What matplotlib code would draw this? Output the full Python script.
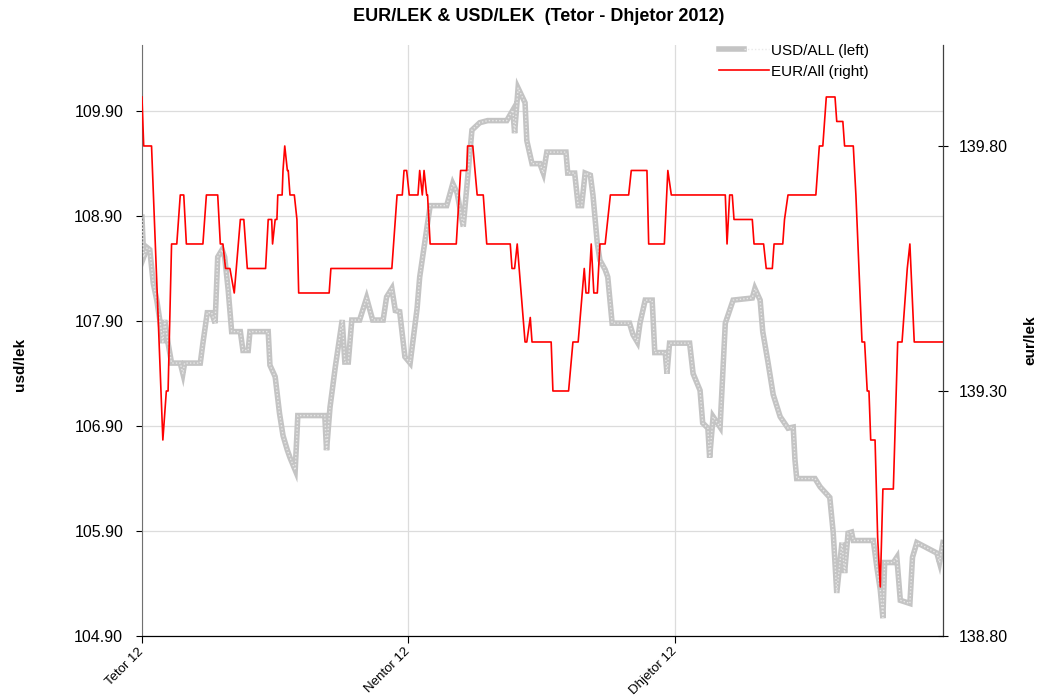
import matplotlib
matplotlib.use("Agg")
import matplotlib.pyplot as plt
from matplotlib.lines import Line2D
from matplotlib.legend_handler import HandlerTuple
import numpy as np

plt.rcParams['font.family'] = ['Liberation Sans', 'DejaVu Sans']

# x in days since 1 Oct 2012
month_pos = [0, 30.55, 61.2]
month_labels = ["Tetor 12", "Nentor 12", "Dhjetor 12"]

usd_day = [0.0, 0.2, 0.6, 0.9, 1.3, 1.7, 2.1, 2.4, 2.6, 3.0, 3.4, 4.4, 4.7, 4.9, 6.7, 7.0,
           7.5, 8.0, 8.4, 8.7, 9.2, 9.5, 9.9, 10.3, 11.3, 11.6, 12.2, 12.4, 14.5, 14.7, 15.3,
           15.8, 16.2, 16.7, 17.0, 17.6, 17.9, 21.0, 21.2, 21.6, 22.2, 23.0, 23.3, 23.7, 24.1,
           25.0, 25.8, 26.5, 27.7, 28.1, 28.7, 29.1, 29.6, 30.2, 30.8, 31.6, 31.9, 33.1, 35.0,
           35.7, 36.2, 36.9, 37.9, 38.8, 39.7, 41.9, 42.6, 42.8, 43.2, 44.0, 44.2, 44.8, 45.7,
           46.1, 46.5, 48.7, 48.9, 49.7, 50.1, 50.5, 50.9, 51.5, 51.8, 52.3, 52.6, 53.2, 53.5,
           54.0, 56.0, 56.4, 56.9, 57.2, 57.8, 58.6, 58.9, 60.1, 60.3, 60.6, 62.9, 63.3, 64.1,
           64.4, 65.0, 65.2, 65.6, 66.4, 67.0, 67.9, 70.1, 70.4, 71.0, 71.3, 71.9, 72.5, 73.3,
           74.2, 74.8, 75.0, 75.2, 77.3, 77.9, 79.0, 79.4, 79.8, 80.4, 80.7, 81.1, 81.5, 81.7,
           84.0, 84.4, 84.8, 85.1, 85.3, 86.3, 86.7, 87.1, 88.2, 88.5, 89.0, 91.3, 91.6, 92.0]
usd_all = [108.89, 108.51, 108.60, 108.58, 108.26, 108.10, 107.88, 107.69, 107.91, 107.69,
           107.50, 107.50, 107.40, 107.50, 107.50, 107.69, 107.98, 107.98, 107.88, 108.51,
           108.58, 108.51, 108.20, 107.80, 107.80, 107.62, 107.62, 107.80, 107.80, 107.48,
           107.37, 107.02, 106.81, 106.67, 106.60, 106.48, 107.00, 107.00, 106.67, 107.08,
           107.46, 107.91, 107.51, 107.51, 107.91, 107.91, 108.12, 107.91, 107.91, 108.13,
           108.21, 108.00, 107.99, 107.56, 107.50, 108.02, 108.32, 109.00, 109.00, 109.21,
           109.12, 108.80, 109.72, 109.79, 109.81, 109.81, 109.91, 109.69, 110.12, 109.98,
           109.62, 109.40, 109.40, 109.31, 109.51, 109.51, 109.31, 109.31, 109.00, 109.00,
           109.31, 109.29, 109.10, 108.64, 108.48, 108.39, 108.32, 107.88, 107.88, 107.77,
           107.70, 107.88, 108.10, 108.10, 107.60, 107.60, 107.40, 107.69, 107.69, 107.40,
           107.24, 106.93, 106.88, 106.60, 106.99, 106.89, 107.88, 108.10, 108.12, 108.21,
           108.10, 107.80, 107.51, 107.20, 106.99, 106.88, 106.89, 106.58, 106.40, 106.40,
           106.32, 106.22, 105.88, 105.31, 105.79, 105.50, 105.88, 105.89, 105.81, 105.81,
           105.56, 105.34, 105.07, 105.60, 105.60, 105.65, 105.24, 105.21, 105.65, 105.79,
           105.69, 105.60, 105.79]

eur_day = [0.0, 0.2, 1.1, 2.4, 2.8, 3.0, 3.4, 4.0, 4.4, 4.8, 5.1, 7.0, 7.4, 8.7, 9.0, 9.3,
           9.6, 10.1, 10.6, 11.3, 11.7, 12.1, 14.2, 14.5, 14.9, 15.0, 15.3, 15.5, 15.6, 16.1,
           16.2, 16.4, 16.7, 16.8, 17.0, 17.5, 17.8, 18.0, 21.5, 21.7, 28.7, 29.3, 29.9, 30.1,
           30.4, 30.7, 31.7, 31.9, 32.2, 32.4, 32.7, 32.8, 33.1, 36.1, 36.6, 37.3, 37.4, 38.0,
           38.5, 39.2, 39.6, 42.3, 42.5, 42.8, 43.1, 44.0, 44.2, 44.6, 44.8, 47.0, 47.2, 49.0,
           49.5, 50.1, 50.8, 51.0, 51.3, 51.6, 51.9, 52.3, 52.6, 53.2, 53.8, 55.9, 56.2, 58.0,
           58.2, 60.0, 60.4, 60.8, 67.0, 67.2, 67.5, 67.8, 68.0, 70.1, 70.3, 71.4, 71.7, 72.4,
           72.6, 73.6, 73.8, 74.2, 77.4, 77.8, 78.2, 78.6, 79.6, 79.8, 80.5, 80.7, 81.7, 82.0,
           82.7, 83.0, 83.3, 83.5, 83.7, 84.2, 84.5, 84.8, 85.1, 86.3, 86.8, 87.3, 87.9, 88.2,
           88.7, 92.0]
eur_all = [139.90, 139.80, 139.80, 139.20, 139.30, 139.30, 139.60, 139.60, 139.70, 139.70,
           139.60, 139.60, 139.70, 139.70, 139.60, 139.60, 139.55, 139.55, 139.50, 139.65,
           139.65, 139.55, 139.55, 139.65, 139.65, 139.60, 139.65, 139.65, 139.70, 139.70,
           139.75, 139.80, 139.75, 139.75, 139.70, 139.70, 139.65, 139.50, 139.50, 139.55,
           139.55, 139.70, 139.70, 139.75, 139.75, 139.70, 139.70, 139.75, 139.70, 139.75,
           139.70, 139.70, 139.60, 139.60, 139.75, 139.75, 139.80, 139.80, 139.70, 139.70,
           139.60, 139.60, 139.55, 139.55, 139.60, 139.40, 139.40, 139.45, 139.40, 139.40,
           139.30, 139.30, 139.40, 139.40, 139.55, 139.50, 139.50, 139.60, 139.50, 139.50,
           139.60, 139.60, 139.70, 139.70, 139.75, 139.75, 139.60, 139.60, 139.75, 139.70,
           139.70, 139.60, 139.70, 139.70, 139.65, 139.65, 139.60, 139.60, 139.55, 139.55,
           139.60, 139.60, 139.65, 139.70, 139.70, 139.80, 139.80, 139.90, 139.90, 139.85,
           139.85, 139.80, 139.80, 139.70, 139.40, 139.40, 139.30, 139.30, 139.20, 139.20,
           139.00, 138.90, 139.10, 139.10, 139.40, 139.40, 139.55, 139.60, 139.40, 139.40]

fig = plt.figure(figsize=(10.4, 6.98), dpi=100)
ax = fig.add_axes([0.1365, 0.0888, 0.7702, 0.8467])
ax2 = ax.twinx()

# gray "textured" line for USD (base + fine dotted overlay)
gray_base = dict(color='#c4c4c4', lw=4.0, solid_joinstyle='miter')
gray_dots = dict(color='#e8e8e8', lw=1.0, ls=(0, (1, 1.5)))
ax.plot(usd_day, usd_all, zorder=2, **gray_base)
ax.plot(usd_day, usd_all, zorder=3, **gray_dots)
ax2.plot(eur_day, eur_all, color='#ff0000', lw=1.2, zorder=4)

ax.set_xlim(0, 92)
ax.set_ylim(104.9, 110.53)
ax2.set_ylim(138.8, 140.006)

ax.set_yticks(np.arange(104.9, 110.0, 1.0))
ax.set_yticklabels(["%.2f" % v for v in np.arange(104.9, 110.0, 1.0)])
ax2.set_yticks([138.8, 139.3, 139.8])
ax2.set_yticklabels(["138.80", "139.30", "139.80"])
ax.set_xticks(month_pos)
ax.set_xticklabels(month_labels, rotation=45, ha='right', va='center',
                   rotation_mode='anchor', fontsize=9.5)

ax.grid(True, color='#dcdcdc', lw=0.9)
ax.set_axisbelow(True)

ax.tick_params(axis='y', direction='out', length=4.5, pad=9, labelsize=11.5, colors='black')
ax.tick_params(axis='x', direction='out', length=5, pad=5)
ax2.tick_params(axis='y', direction='inout', length=7, pad=8, labelsize=11.5)

for a in (ax, ax2):
    a.spines['top'].set_visible(False)
ax.spines['left'].set_color('#707070')
ax2.spines['left'].set_visible(False)
ax2.spines['right'].set_color('#404040')

ax.set_ylabel("usd/lek", fontweight='bold', fontsize=11, ha='center', va='center')
ax.yaxis.set_label_coords(-0.152, 0.46)
ax2.set_ylabel("eur/lek", fontweight='bold', fontsize=11, rotation=90, ha='center', va='center')
ax2.yaxis.set_label_coords(1.109, 0.50)

fig.suptitle("EUR/LEK & USD/LEK  (Tetor - Dhjetor 2012)", fontweight='bold', fontsize=13,
             x=0.518, y=0.988)

usd_handle = (Line2D([], [], **gray_base), Line2D([], [], **gray_dots))
eur_handle = Line2D([], [], color='#ff0000', lw=1.2)
fig.legend([usd_handle, eur_handle], ["USD/ALL (left)", "EUR/All (right)"],
           handler_map={tuple: HandlerTuple(ndivide=None, pad=0)},
           loc='upper left', bbox_to_anchor=(0.678, 0.957), frameon=False,
           fontsize=11, handlelength=3.3, handletextpad=0.1, labelspacing=0.45)

fig.savefig("out.png", dpi=100)
